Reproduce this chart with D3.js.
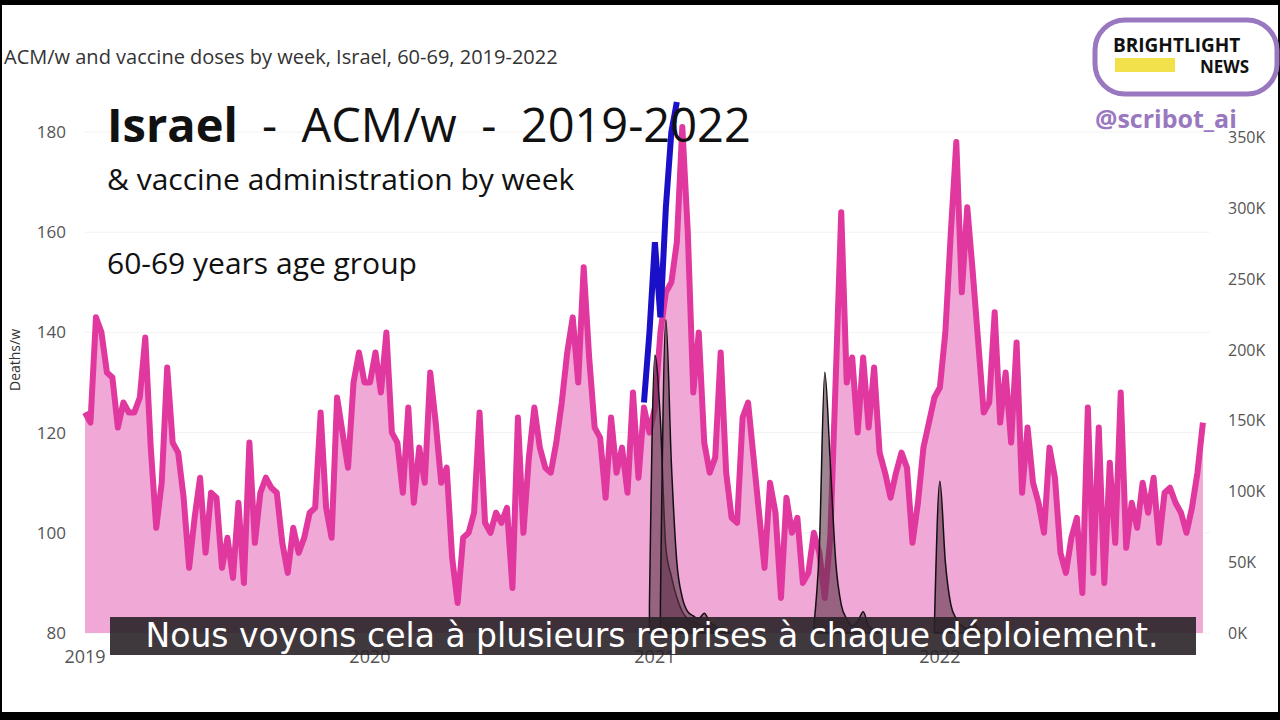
<!DOCTYPE html>
<html><head><meta charset="utf-8">
<script src="https://cdn.jsdelivr.net/npm/d3@7"></script>
<style>body{margin:0;background:#000}svg{display:block}</style>
</head><body><svg id="c" width="1280" height="720"></svg>
<script>
// weekly all-cause deaths, 60-69, per year
const deaths2019 = [124,122,143,140,132,131,121,126,124,124,127,139,117,101,110,133,118,116,107,93,103,111,96,108,107,93,99,91,106,90,118,98,108,111,109,108,98,92,101,96,99,104,105,124,105,99,127,120,113,130,136,130];
const deaths2020 = [130,136,128,140,120,118,108,125,106,117,110,132,122,110,113,95,86,99,100,104,124,102,100,104,102,105,89,123,100,115,125,117,113,112,118,126,136,143,130,153,135,121,119,107,123,112,117,108,128,111,125,120];
const deaths2021 = [125,140,148,150,158,181,160,128,140,118,112,115,136,112,103,102,123,126,115,104,93,110,104,87,107,100,103,90,92,100,96,87,99,131,164,130,135,120,135,121,133,116,112,107,112,116,113,98,106,117,122,127];
const deaths2022 = [129,140,160,178,148,165,152,138,124,126,144,122,132,118,138,108,121,110,106,100,117,111,96,92,99,103,88,125,92,121,90,114,98,128,97,106,101,110,104,111,98,108,109,106,104,100,105,112,122];
// vaccine doses per week (thousands), week index from start of 2019
const dose1Start = 103, dose1 = [20,196,150,60,40,25,15,10,8,6,5,4,3,2,1,0];
const dose2Start = 105, dose2 = [20,221,120,50,25,15,12,10,14,8,5,3,0];
const dose3Start = 133, dose3 = [5,60,184,120,50,20,10,5,8,15,5,2,0];
const dose4Start = 155, dose4 = [5,107,50,20,10,5,3,8,2,0];
// blue overlay line (deaths axis)
const blueStart = 102, blueVals = [126,140,158,143,165,180,186];
const yearTicks = [2019,2020,2021,2022];
const leftTicks = [80,100,120,140,160,180];
const rightTicks = [0,50,100,150,200,250,300,350];

const deaths = [...deaths2019,...deaths2020,...deaths2021,...deaths2022];
const svg = d3.select('#c');
svg.append('rect').attr('x',2).attr('y',5).attr('width',1276).attr('height',707).attr('fill','#fff');

const x = d3.scaleLinear().domain([0,208]).range([85,85+208*5.48]);
const y = d3.scaleLinear().domain([80,180]).range([633,132]);
const yr = d3.scaleLinear().domain([0,350]).range([633,137]);

// gridlines
svg.append('g').selectAll('line').data(leftTicks).join('line')
  .attr('x1',85).attr('x2',1210).attr('y1',d=>y(d)).attr('y2',d=>y(d))
  .attr('stroke','#f2f2f2');

svg.append('path').datum(deaths)
  .attr('d',d3.area().x((d,i)=>x(i)).y0(y(80)).y1(d=>y(d)))
  .attr('fill','#f0a8d6');
svg.append('path').datum(deaths)
  .attr('d',d3.line().x((d,i)=>x(i)).y(d=>y(d)))
  .attr('fill','none').attr('stroke','#e0389e').attr('stroke-width',6).attr('stroke-linejoin','round');

[[dose1Start,dose1],[dose2Start,dose2],[dose3Start,dose3],[dose4Start,dose4]].forEach(([s,v])=>{
  svg.append('path').datum(v)
    .attr('d',d3.area().curve(d3.curveMonotoneX).x((d,i)=>x(s+i)).y0(yr(0)).y1(d=>yr(d)))
    .attr('fill','#5e3448').attr('fill-opacity',0.6).attr('stroke','#111').attr('stroke-width',1.5);
});

svg.append('path').datum(blueVals)
  .attr('d',d3.line().x((d,i)=>x(blueStart+i)).y(d=>y(d)))
  .attr('fill','none').attr('stroke','#1a10c8').attr('stroke-width',6);

// axes text
const tg = svg.append('g').attr('font-family','Open Sans, sans-serif').attr('fill','#555');
tg.selectAll('.l').data(leftTicks).join('text').attr('x',66).attr('y',d=>y(d)+6)
  .attr('text-anchor','end').attr('font-size',17).text(d=>d);
tg.selectAll('.r').data(rightTicks).join('text').attr('x',1228).attr('y',d=>yr(d)+6)
  .attr('font-size',16).text(d=>d+'K');
tg.selectAll('.x').data(yearTicks).join('text').attr('x',d=>x((d-2019)*52)).attr('y',663)
  .attr('text-anchor','middle').attr('font-size',18).text(d=>d);
tg.append('text').attr('transform','translate(20,360) rotate(-90)').attr('text-anchor','middle')
  .attr('font-size',14).attr('fill','#333').text('Deaths/w');

svg.append('text').attr('x',4).attr('y',64).attr('font-family','Open Sans, sans-serif')
  .attr('font-size',20).attr('fill','#333').text('ACM/w and vaccine doses by week, Israel, 60-69, 2019-2022');

const t = svg.append('g').attr('font-family','Open Sans, sans-serif').attr('fill','#111');
t.append('text').attr('x',107).attr('y',142).attr('font-size',47).attr('font-weight','bold').text('Israel');
t.append('text').attr('x',262).attr('y',142).attr('font-size',47).attr('xml:space','preserve').text('-  ACM/w  -  2019-2022');
t.append('text').attr('x',107).attr('y',190).attr('font-size',30).text('& vaccine administration by week');
t.append('text').attr('x',107).attr('y',274).attr('font-size',30).text('60-69 years age group');

// subtitle bar
svg.append('rect').attr('x',110).attr('y',617).attr('width',1086).attr('height',38).attr('fill','#2a2228').attr('fill-opacity',0.9);
svg.append('text').attr('x',652).attr('y',647).attr('text-anchor','middle').attr('font-family','DejaVu Sans, sans-serif')
  .attr('font-size',33).attr('fill','#fff').text('Nous voyons cela à plusieurs reprises à chaque déploiement.');

// logo
svg.append('rect').attr('x',1095).attr('y',20).attr('width',182).attr('height',74).attr('rx',30)
  .attr('fill','#fff').attr('stroke','#9a78c0').attr('stroke-width',5);
svg.append('rect').attr('x',1115).attr('y',58).attr('width',60).attr('height',14).attr('fill','#f2e14a');
svg.append('text').attr('x',1113).attr('y',52).attr('font-family','Open Sans, sans-serif').attr('font-weight','bold')
  .attr('font-size',19).attr('fill','#111').text('BRIGHTLIGHT');
svg.append('text').attr('x',1200).attr('y',73).attr('font-family','Open Sans, sans-serif').attr('font-weight','bold')
  .attr('font-size',17).attr('fill','#111').text('NEWS');
svg.append('text').attr('x',1095).attr('y',128).attr('font-family','Open Sans, sans-serif').attr('font-weight','bold')
  .attr('font-size',25).attr('fill','#9a78c0').text('@scribot_ai');
</script></body></html>
